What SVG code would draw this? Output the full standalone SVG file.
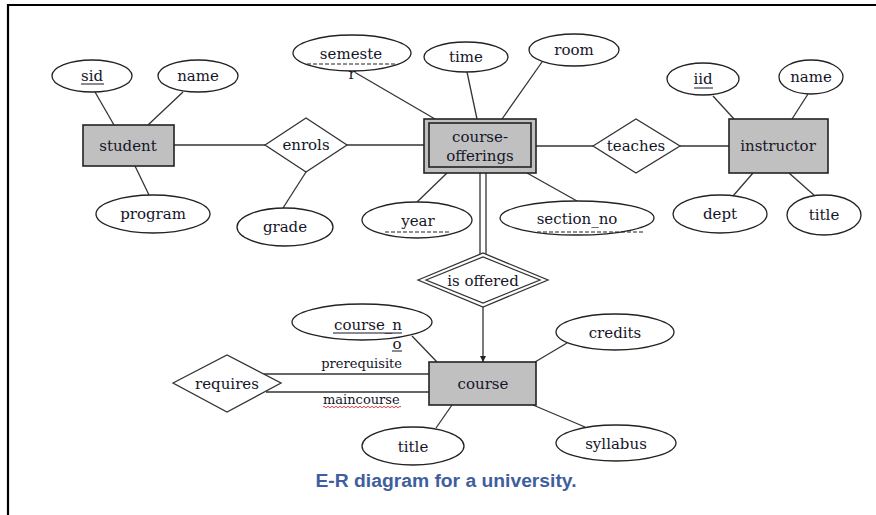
<svg xmlns="http://www.w3.org/2000/svg" width="876" height="515" viewBox="0 0 876 515">
<defs>
<style>
.bg{fill:#ffffff}
.frame{stroke:#000;stroke-width:2.2;fill:none}
.ln{stroke:#333;stroke-width:1.3;fill:none}
.ent{fill:#c0c0c0;stroke:#222;stroke-width:1.6}
.att{fill:#fff;stroke:#222;stroke-width:1.3}
.rel{fill:#fff;stroke:#333;stroke-width:1.3}
.t{font-family:"DejaVu Serif","Liberation Serif",serif;font-size:15px;fill:#151528;text-anchor:middle}
.te{font-family:"DejaVu Serif","Liberation Serif",serif;font-size:15px;fill:#151528;text-anchor:end}
.s{font-family:"DejaVu Serif","Liberation Serif",serif;font-size:13px;fill:#151528}
.ul{stroke:#151528;stroke-width:1}
.dash{stroke:#222;stroke-width:1.1;stroke-dasharray:4 2}
.cap{font-family:"Liberation Sans",Arial,sans-serif;font-size:18px;font-weight:bold;fill:#3f5e9e;text-anchor:middle}
</style>
<marker id="arr" viewBox="0 0 10 10" refX="10" refY="5" markerWidth="6" markerHeight="6" orient="auto" markerUnits="userSpaceOnUse">
<path d="M0,0 L10,5 L0,10 z" fill="#222"/>
</marker>
</defs>
<rect class="bg" x="0" y="0" width="876" height="515"/>
<path class="frame" d="M8,515 L8,5 L876,5"/>

<g id="connectors">
<line class="ln" x1="95" y1="92" x2="114" y2="125"/>
<line class="ln" x1="183" y1="92" x2="148" y2="125"/>
<line class="ln" x1="135" y1="166" x2="149" y2="195"/>
<line class="ln" x1="174" y1="145" x2="265" y2="145"/>
<line class="ln" x1="347" y1="145" x2="424" y2="145"/>
<line class="ln" x1="306" y1="172" x2="283" y2="208"/>
<line class="ln" x1="356" y1="73" x2="435" y2="119"/>
<line class="ln" x1="467" y1="72" x2="477" y2="119"/>
<line class="ln" x1="542" y1="62" x2="502" y2="119"/>
<line class="ln" x1="447" y1="173" x2="417" y2="202"/>
<line class="ln" x1="527" y1="173" x2="577" y2="201"/>
<line class="ln" x1="536" y1="146" x2="593" y2="146"/>
<line class="ln" x1="680" y1="146" x2="729" y2="146"/>
<line class="ln" x1="713" y1="96" x2="734" y2="119"/>
<line class="ln" x1="808" y1="94" x2="792" y2="119"/>
<line class="ln" x1="753" y1="173" x2="733" y2="196"/>
<line class="ln" x1="789" y1="173" x2="815" y2="196"/>
<line class="ln" x1="480" y1="173" x2="480" y2="255"/>
<line class="ln" x1="486" y1="173" x2="486" y2="255"/>
<line class="ln" x1="483" y1="307" x2="483" y2="362" marker-end="url(#arr)"/>
<line class="ln" x1="567" y1="343" x2="535" y2="362"/>
<line class="ln" x1="533" y1="405" x2="585" y2="427"/>
<line class="ln" x1="452" y1="405" x2="436" y2="428"/>
<line class="ln" x1="412" y1="336" x2="437" y2="362"/>
<line class="ln" x1="263" y1="374" x2="429" y2="374"/>
<line class="ln" x1="266" y1="392" x2="429" y2="392"/>
</g>

<g id="student">
<rect class="ent" x="83" y="125" width="91" height="41"/>
<text class="t" x="128" y="151">student</text>
</g>
<g id="student-sid">
<ellipse class="att" cx="92" cy="76" rx="40" ry="16"/>
<text class="t" x="92" y="81">sid</text>
<line class="ul" x1="81" y1="84" x2="104" y2="84"/>
</g>
<g id="student-name">
<ellipse class="att" cx="198" cy="76" rx="40" ry="16"/>
<text class="t" x="198" y="81">name</text>
</g>
<g id="student-program">
<ellipse class="att" cx="153" cy="214" rx="57" ry="19"/>
<text class="t" x="153" y="219">program</text>
</g>

<g id="enrols">
<polygon class="rel" points="265,145 306,118 347,145 306,172"/>
<text class="t" x="306" y="150">enrols</text>
</g>
<g id="enrols-grade">
<ellipse class="att" cx="285" cy="227" rx="48" ry="19"/>
<text class="t" x="285" y="232">grade</text>
</g>

<g id="course-offerings">
<rect class="ent" x="424" y="119" width="112" height="54"/>
<rect class="ent" x="429" y="123" width="102" height="44"/>
<text class="t" x="480" y="142">course-</text>
<text class="t" x="480" y="161">offerings</text>
</g>
<g id="co-semester">
<ellipse class="att" cx="352" cy="53" rx="59" ry="18"/>
<text class="t" x="351" y="59">semeste</text>
<line class="dash" x1="307" y1="64" x2="397" y2="64"/>
<text class="t" x="352" y="79">r</text>
</g>
<g id="co-time">
<ellipse class="att" cx="466" cy="57" rx="42" ry="15"/>
<text class="t" x="466" y="62">time</text>
</g>
<g id="co-room">
<ellipse class="att" cx="574" cy="50" rx="45" ry="16"/>
<text class="t" x="574" y="55">room</text>
</g>
<g id="co-year">
<ellipse class="att" cx="417" cy="220" rx="55" ry="18"/>
<text class="t" x="418" y="226">year</text>
<line class="dash" x1="385" y1="232" x2="450" y2="232"/>
</g>
<g id="co-section_no">
<ellipse class="att" cx="577" cy="218" rx="77" ry="17"/>
<text class="t" x="577" y="224">section_no</text>
<line class="dash" x1="537" y1="232" x2="643" y2="232"/>
</g>

<g id="teaches">
<polygon class="rel" points="593,146 636,119 680,146 636,173"/>
<text class="t" x="636" y="151">teaches</text>
</g>

<g id="instructor">
<rect class="ent" x="729" y="119" width="99" height="54"/>
<text class="t" x="778" y="151">instructor</text>
</g>
<g id="instructor-iid">
<ellipse class="att" cx="703" cy="79" rx="36" ry="16"/>
<text class="t" x="703" y="84">iid</text>
<line class="ul" x1="694" y1="88" x2="713" y2="88"/>
</g>
<g id="instructor-name">
<ellipse class="att" cx="811" cy="77" rx="32" ry="17"/>
<text class="t" x="811" y="82">name</text>
</g>
<g id="instructor-dept">
<ellipse class="att" cx="720" cy="214" rx="47" ry="19"/>
<text class="t" x="720" y="219">dept</text>
</g>
<g id="instructor-title">
<ellipse class="att" cx="824" cy="215" rx="37" ry="20"/>
<text class="t" x="824" y="220">title</text>
</g>

<g id="is-offered">
<polygon class="rel" points="418,280 483,253 548,280 483,307"/>
<polygon class="rel" points="426,280 483,257 540,280 483,303"/>
<text class="t" x="483" y="286">is offered</text>
</g>

<g id="course">
<rect class="ent" x="429" y="362" width="107" height="43"/>
<text class="t" x="483" y="389">course</text>
</g>
<g id="course-course_no">
<ellipse class="att" cx="362" cy="322" rx="70" ry="18"/>
<text class="te" x="402" y="330">course_n</text>
<line class="ul" x1="333" y1="333" x2="402" y2="333"/>
<text class="t" x="397" y="349">o</text>
<line class="ul" x1="392" y1="351" x2="402" y2="351"/>
</g>
<g id="course-credits">
<ellipse class="att" cx="615" cy="332" rx="59" ry="18"/>
<text class="t" x="615" y="338">credits</text>
</g>
<g id="course-syllabus">
<ellipse class="att" cx="616" cy="443" rx="60" ry="18"/>
<text class="t" x="616" y="449">syllabus</text>
</g>
<g id="course-title">
<ellipse class="att" cx="413" cy="446" rx="51" ry="19"/>
<text class="t" x="413" y="452">title</text>
</g>

<g id="requires">
<polygon class="rel" points="173,383 227,355 281,383 227,412"/>
<text class="t" x="227" y="389">requires</text>
</g>
<g id="role-labels">
<text class="s" x="402" y="368" text-anchor="end">prerequisite</text>
<text class="s" x="323" y="404">maincourse</text>
<path d="M323,407 q1,-1.5 2,0 t2,0 t2,0 t2,0 t2,0 t2,0 t2,0 t2,0 t2,0 t2,0 t2,0 t2,0 t2,0 t2,0 t2,0 t2,0 t2,0 t2,0 t2,0 t2,0 t2,0 t2,0 t2,0 t2,0 t2,0 t2,0 t2,0 t2,0 t2,0 t2,0 t2,0 t2,0 t2,0 t2,0 t2,0 t2,0 t2,0 t2,0 t2,0" stroke="#e03030" stroke-width="0.9" fill="none"/>
</g>

<text class="cap" x="446" y="487" textLength="261" lengthAdjust="spacingAndGlyphs">E-R diagram for a university.</text>
</svg>
